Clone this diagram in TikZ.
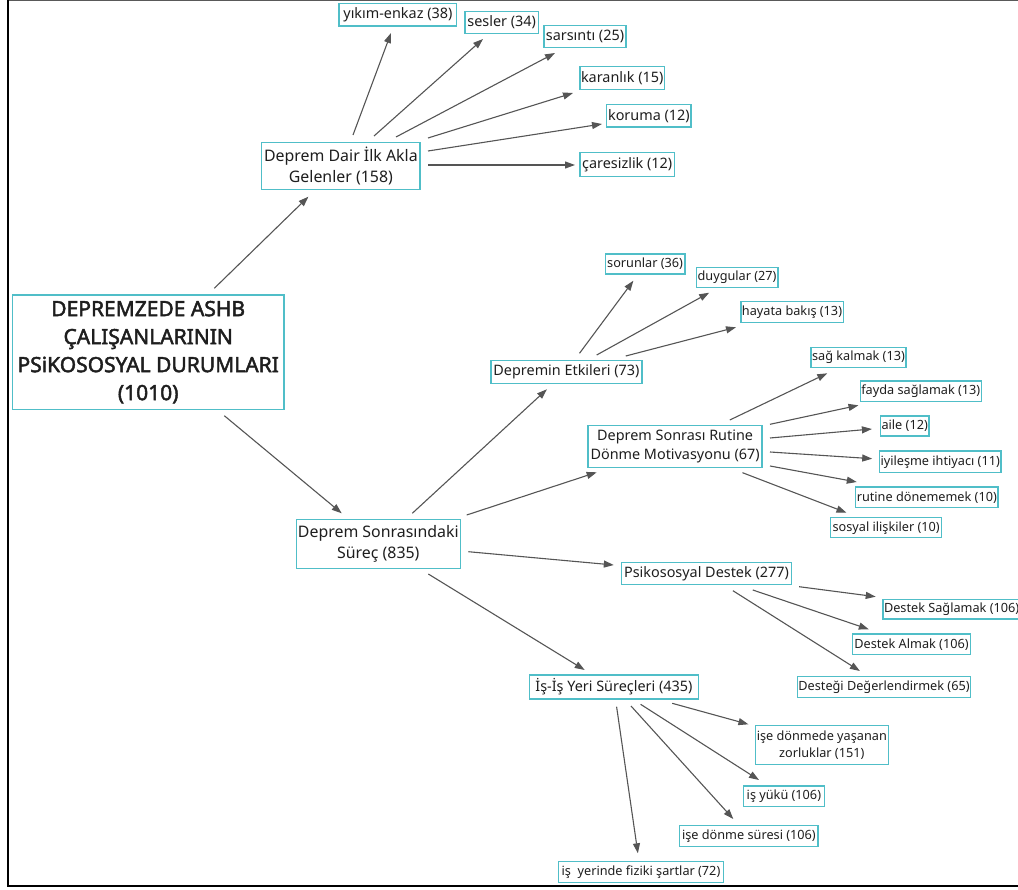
\documentclass[tikz,border=0pt]{standalone}
\usepackage{fontspec}
\setmainfont{Noto Sans}
\newfontfamily\rootfont{Noto Sans}[FakeBold=2.2]
\usetikzlibrary{arrows.meta}
\definecolor{boxc}{RGB}{80,190,200}
\definecolor{arrc}{RGB}{85,85,85}
\definecolor{txtc}{RGB}{30,30,30}
\tikzset{
  box/.style={draw=boxc, line width=1.3pt, inner sep=1pt, align=center, text=txtc},
  rootf/.style={box, font=\rootfont\fontsize{21}{28}\selectfont},
  bigf/.style={box, font=\fontsize{15.9}{21}\selectfont},
  midf/.style={box, font=\fontsize{14.4}{19}\selectfont},
  topf/.style={box, font=\fontsize{14.4}{17}\selectfont},
  leaff/.style={box, font=\fontsize{12.7}{17}\selectfont},
  arr/.style={draw=arrc, line width=1.1pt, -{Triangle[length=10pt,width=7pt]}},
}
\newcommand\bx[6]{\node[#1, minimum width=#4pt, minimum height=#5pt] (#2) at (#3) {#6};}
\begin{document}
\begin{tikzpicture}[x=1pt,y=-1pt]
\useasboundingbox (0,0) rectangle (1018,890);
% frame
\draw[gray!70!black, line width=1.5pt] (8,0.7) -- (1018,0.7);
\draw[black, line width=2.2pt] (8.2,0) -- (8.2,887);
\draw[black, line width=2pt] (8,886) -- (1018,886);
% nodes
\bx{rootf}{root}{148.2,352.2}{271.7}{114.3}{DEPREMZEDE ASHB\\ÇALIŞANLARININ\\PSiKOSOSYAL DURUMLARI\\(1010)}
\bx{bigf}{dair}{340.9,165.8}{158.3}{47}{Deprem Dair İlk Akla\\Gelenler (158)}
\bx{topf}{yikim}{397.9,14.7}{117.7}{22.7}{yıkım-enkaz (38)}
\bx{topf}{sesler}{501.7,22.5}{73.3}{21.6}{sesler (34)}
\bx{topf}{sarsinti}{585,36.7}{82}{22}{sarsıntı (25)}
\bx{topf}{karanlik}{622.2,78}{84.3}{22.6}{karanlık (15)}
\bx{topf}{koruma}{648.9,115.7}{84.3}{22.7}{koruma (12)}
\bx{topf}{caresiz}{627.2,164.7}{94.3}{24}{çaresizlik (12)}
\bx{bigf}{surec}{378.3,543.8}{164}{49}{Deprem Sonrasındaki\\Süreç (835)}
\bx{midf}{etki}{566.5,372}{151}{22.6}{Depremin Etkileri (73)}
\bx{leaff}{sorun}{645.1,264}{79.6}{20}{sorunlar (36)}
\bx{leaff}{duygu}{737.1,277.3}{81.7}{20}{duygular (27)}
\bx{leaff}{hayata}{792,312}{102.3}{20.6}{hayata bakış (13)}
\bx{midf}{rutin}{675.1,446.7}{174}{42}{Deprem Sonrası Rutine\\Dönme Motivasyonu (67)}
\bx{leaff}{sag}{858.5,357.3}{92.6}{20}{sağ kalmak (13)}
\bx{leaff}{fayda}{920.8,391.2}{118.4}{20.3}{fayda sağlamak (13)}
\bx{leaff}{aile}{904.7,426}{48.4}{20}{aile (12)}
\bx{leaff}{iyiles}{940.2,461.7}{119.4}{21.3}{iyileşme ihtiyacı (11)}
\bx{leaff}{rutdon}{926.8,497.3}{142}{20.7}{rutine dönememek (10)}
\bx{leaff}{sosyal}{886.2,527.7}{110.9}{20}{sosyal ilişkiler (10)}
\bx{midf}{psiko}{706.5,573.3}{169.6}{22}{Psikososyal Destek (277)}
\bx{leaff}{dsag}{951.6,609.2}{136.8}{19.7}{Destek Sağlamak (106)}
\bx{leaff}{dalmak}{911.5,644.2}{118.4}{20.3}{Destek Almak (106)}
\bx{leaff}{deger}{884,687}{173.3}{20.6}{Desteği Değerlendirmek (65)}
\bx{midf}{is}{613.9,687}{169.5}{24}{İş-İş Yeri Süreçleri (435)}
\bx{leaff}{zorluk}{821.8,745}{133.2}{38.6}{işe dönmede yaşanan\\zorluklar (151)}
\bx{leaff}{yuku}{783.9,796.3}{80.6}{20.7}{iş yükü (106)}
\bx{leaff}{suresi}{748.9,836.2}{138.3}{21}{işe dönme süresi (106)}
\bx{leaff}{fiziki}{641,872}{165.5}{20.6}{iş\ \ yerinde fiziki şartlar (72)}
% connectors
\draw[arr] ([shift={(66.1,-63.9)}]root.center) -- ([shift={(-32.5,30.9)}]dair.center);
\draw[arr] ([shift={(76.1,63.5)}]root.center) -- ([shift={(-36.6,-30.5)}]surec.center);
\draw[arr] ([shift={(12.1,-30.8)}]dair.center) -- ([shift={(-6.9,18.3)}]yikim.center);
\draw[arr] ([shift={(33.1,-29.8)}]dair.center) -- ([shift={(-18.7,16.5)}]sesler.center);
\draw[arr] ([shift={(55.1,-28.8)}]dair.center) -- ([shift={(-30,16.3)}]sarsinti.center);
\draw[arr] ([shift={(87.1,-27.8)}]dair.center) -- ([shift={(-49.2,15)}]karanlik.center);
\draw[arr] ([shift={(87.1,-14.8)}]dair.center) -- ([shift={(-46.9,8.3)}]koruma.center);
\draw[arr] ([shift={(87.1,-0.8)}]dair.center) -- ([shift={(-52.2,0.3)}]caresiz.center);
\draw[arr] ([shift={(34,-30.5)}]surec.center) -- ([shift={(-19.6,17.3)}]etki.center);
\draw[arr] ([shift={(88.4,-28.8)}]surec.center) -- ([shift={(-78.4,25.6)}]rutin.center);
\draw[arr] ([shift={(90,7.9)}]surec.center) -- ([shift={(-92.7,-8.3)}]psiko.center);
\draw[arr] ([shift={(50,30.2)}]surec.center) -- ([shift={(-29.2,-17)}]is.center);
\draw[arr] ([shift={(13,-18.7)}]etki.center) -- ([shift={(-11.7,16.7)}]sorun.center);
\draw[arr] ([shift={(30.2,-17)}]etki.center) -- ([shift={(-27.9,15.4)}]duygu.center);
\draw[arr] ([shift={(59.3,-16)}]etki.center) -- ([shift={(-56,15.3)}]hayata.center);
\draw[arr] ([shift={(54.7,-26.7)}]rutin.center) -- ([shift={(-31.2,16)}]sag.center);
\draw[arr] ([shift={(94.9,-22.4)}]rutin.center) -- ([shift={(-62.3,14.1)}]fayda.center);
\draw[arr] ([shift={(94.9,-8.7)}]rutin.center) -- ([shift={(-32.8,3)}]aile.center);
\draw[arr] ([shift={(94.9,5.3)}]rutin.center) -- ([shift={(-68,-3)}]iyiles.center);
\draw[arr] ([shift={(94.9,19.3)}]rutin.center) -- ([shift={(-70,-15.3)}]rutdon.center);
\draw[arr] ([shift={(67.4,26)}]rutin.center) -- ([shift={(-39.7,-15)}]sosyal.center);
\draw[arr] ([shift={(92.6,13.4)}]psiko.center) -- ([shift={(-75.9,-12.5)}]dsag.center);
\draw[arr] ([shift={(46.3,16.7)}]psiko.center) -- ([shift={(-42.7,-14.9)}]dalmak.center);
\draw[arr] ([shift={(26.4,17.4)}]psiko.center) -- ([shift={(-24.1,-16)}]deger.center);
\draw[arr] ([shift={(58.3,16.3)}]is.center) -- ([shift={(-73.4,-20.7)}]zorluk.center);
\draw[arr] ([shift={(26.7,17.3)}]is.center) -- ([shift={(-24.9,-16.3)}]yuku.center);
\draw[arr] ([shift={(17.1,19)}]is.center) -- ([shift={(-15.6,-17.2)}]suresi.center);
\draw[arr] ([shift={(2.7,19.7)}]is.center) -- ([shift={(-3.1,-18.7)}]fiziki.center);
\end{tikzpicture}
\end{document}
